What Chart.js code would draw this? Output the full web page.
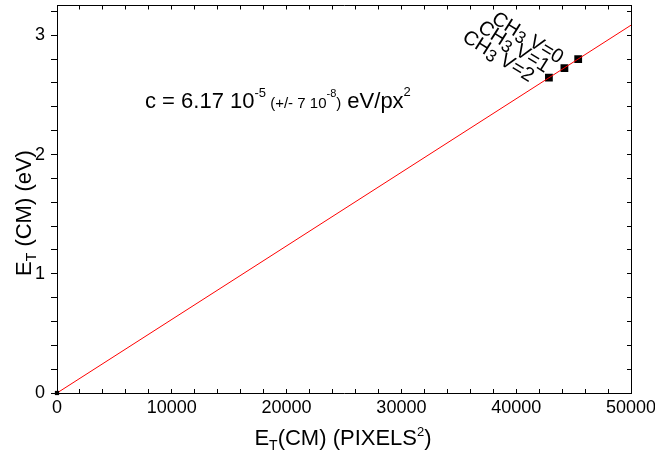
<!DOCTYPE html>
<html>
<head>
<meta charset="utf-8">
<script src="https://cdn.jsdelivr.net/npm/chart.js@4/dist/chart.umd.min.js"></script>
<style>
  html, body { margin: 0; padding: 0; background: #fff; }
  canvas { display: block; }
</style>
</head>
<body>
<canvas id="chart" width="655" height="460"></canvas>
<script>
// fitted line E = c * px^2, c = 6.17e-5
const fitX = [0, 50000];
const fitY = [0, 3.085];

// CH3 points
const ch3X = [45400, 44200, 42850];
const ch3Y = [2.80, 2.725, 2.645];
const ch3Names = ['V=0', 'V=1', 'V=2'];

// tick labels
const xTickValues = [0, 10000, 20000, 30000, 40000, 50000];
const xTickLabels = ['0', '10000', '20000', '30000', '40000', '50000'];
const yTickValues = [0, 1, 2, 3];
const yTickLabels = ['0', '1', '2', '3'];

const FONT = "'Liberation Sans', Arial, sans-serif";
Chart.defaults.font.family = FONT;
Chart.defaults.color = '#000';

function findLabel(values, labels, v) {
  for (let i = 0; i < values.length; i++) {
    if (Math.abs(values[i] - v) < 1e-6) return labels[i];
  }
  return '';
}

// fixed box sizes so the plot area sits where the reference has it
function fixBox(s, size) {
  if (s.isHorizontal()) s.height = size; else s.width = size;
  s.paddingLeft = 0; s.paddingRight = 0;
  s.paddingTop = 0; s.paddingBottom = 0;
}

// draws a run of text pieces [text, size, dy] on one baseline
function drawParts(ctx, parts, x, y, align) {
  ctx.textBaseline = 'alphabetic';
  ctx.textAlign = 'left';
  let w = 0;
  parts.forEach(p => {
    ctx.font = p[1] + 'px ' + FONT;
    w += ctx.measureText(p[0]).width;
  });
  let cx = x;
  if (align === 'center') cx = x - w / 2;
  if (align === 'right') cx = x - w;
  parts.forEach(p => {
    ctx.font = p[1] + 'px ' + FONT;
    ctx.fillText(p[0], cx, y + (p[2] || 0));
    cx += ctx.measureText(p[0]).width;
  });
}

const textPlugin = {
  id: 'texts',
  afterDraw(chart) {
    const ctx = chart.ctx;
    const xs = chart.scales.x, ys = chart.scales.y;
    ctx.save();
    ctx.fillStyle = '#000';

    // axis titles
    drawParts(ctx, [['E', 22], ['T', 14, 5], ['(CM) (PIXELS', 22], ['2', 13, -9], [')', 22]], 343, 445, 'center');

    ctx.save();
    ctx.translate(31, 213);
    ctx.rotate(-Math.PI / 2);
    drawParts(ctx, [['E', 22], ['T', 14, 5], [' (CM) (eV)', 22]], 0, 0, 'center');
    ctx.restore();

    // fit annotation
    drawParts(ctx, [['c = 6.17 10', 22], ['-5', 13, -11], [' (+/- 7 10', 15], ['-8', 11, -11],
      [')', 15], [' eV/px', 22], ['2', 13, -12]], 145, 108, 'left');

    // point labels
    for (let i = 0; i < ch3X.length; i++) {
      const px = xs.getPixelForValue(ch3X[i]);
      const py = ys.getPixelForValue(ch3Y[i]);
      ctx.save();
      ctx.translate(px - 16, py - 1);
      ctx.rotate(32 * Math.PI / 180);
      drawParts(ctx, [['CH', 20], ['3', 17, 3], [' ' + ch3Names[i], 20]], 0, 7, 'right');
      ctx.restore();
    }
    ctx.restore();
  }
};

const ctx = document.getElementById('chart').getContext('2d');

new Chart(ctx, {
  type: 'scatter',
  data: {
    datasets: [
      {
        type: 'line',
        data: fitX.map((x, i) => ({ x: x, y: fitY[i] })),
        borderColor: '#ff0000',
        borderWidth: 1,
        pointStyle: 'rect',
        pointRadius: [3, 0],
        pointBackgroundColor: '#000',
        pointBorderWidth: 0,
        fill: false,
        tension: 0,
        clip: false
      },
      {
        data: ch3X.map((x, i) => ({ x: x, y: ch3Y[i] })),
        pointStyle: 'rect',
        pointRadius: 5.5,
        backgroundColor: '#000',
        borderWidth: 0
      }
    ]
  },
  options: {
    responsive: false,
    animation: false,
    devicePixelRatio: 1,
    layout: { padding: 0 },
    plugins: { legend: { display: false }, tooltip: { enabled: false } },
    scales: {
      x: {
        type: 'linear', position: 'bottom', min: 0, max: 50000,
        ticks: {
          stepSize: 2000, autoSkip: false, maxRotation: 0, padding: 8,
          font: { size: 18 }, color: '#000',
          callback: v => findLabel(xTickValues, xTickLabels, v)
        },
        grid: { drawOnChartArea: false, tickLength: -4, color: '#000' },
        border: { display: true, color: '#000', width: 1 },
        afterFit: s => fixBox(s, 67)
      },
      x2: {
        type: 'linear', position: 'top', min: 0, max: 50000,
        ticks: { stepSize: 2000, display: false },
        grid: { drawOnChartArea: false, tickLength: -4, color: '#000' },
        border: { display: true, color: '#000', width: 1 },
        afterFit: s => fixBox(s, 5)
      },
      y: {
        type: 'linear', position: 'left', min: 0, max: 3.25,
        ticks: {
          stepSize: 0.2, autoSkip: false, includeBounds: false, padding: 6,
          font: { size: 18 }, color: '#000',
          callback: v => findLabel(yTickValues, yTickLabels, v)
        },
        grid: { drawOnChartArea: false, tickLength: 6, color: '#000' },
        border: { display: true, color: '#000', width: 1 },
        afterFit: s => fixBox(s, 57)
      },
      y2: {
        type: 'linear', position: 'right', min: 0, max: 3.25,
        ticks: { stepSize: 0.2, display: false, includeBounds: false },
        grid: { drawOnChartArea: false, tickLength: -4, color: '#000' },
        border: { display: true, color: '#000', width: 1 },
        afterFit: s => fixBox(s, 24)
      }
    }
  },
  plugins: [textPlugin]
});
</script>
</body>
</html>
